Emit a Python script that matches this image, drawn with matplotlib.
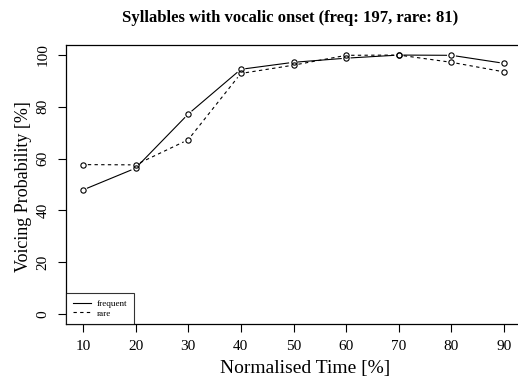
import numpy as np
import matplotlib
matplotlib.use("Agg")
import matplotlib.pyplot as plt
from matplotlib.lines import Line2D

plt.rcParams['font.family'] = ['Liberation Serif', 'DejaVu Serif']

time_pct = [10, 20, 30, 40, 50, 60, 70, 80, 90]
frequent = [47.9, 56.3, 77.2, 94.5, 97.2, 98.8, 100.0, 99.9, 96.8]
rare = [57.7, 57.6, 67.3, 92.9, 96.1, 99.9, 100.0, 97.2, 93.5]
x_ticks = [10, 20, 30, 40, 50, 60, 70, 80, 90]
y_ticks = [0, 20, 40, 60, 80, 100]

W, H = 518, 379
fig = plt.figure(figsize=(W / 100, H / 100), dpi=100)
ax = fig.add_axes([66 / W, (H - 324.4) / H, (521 - 66) / W, (324.4 - 44.7) / H])
ax.set_xlim(6.8, 93.2)
ax.set_ylim(-4, 104)


def gapped_line(ax, x, y, gap_px, **kw):
    # like R's type="b": segments stop short of each point
    pts = ax.transData.transform(np.column_stack([x, y]))
    inv = ax.transData.inverted()
    for p0, p1 in zip(pts[:-1], pts[1:]):
        d = p1 - p0
        n = np.hypot(*d)
        if n <= 2 * gap_px:
            continue
        u = d / n
        seg = inv.transform(np.array([p0 + u * gap_px, p1 - u * gap_px]))
        ax.plot(seg[:, 0], seg[:, 1], color='black', lw=0.8, **kw)
    ax.plot(x, y, 'o', ms=3.8, mfc='none', mec='black', mew=0.8)


gapped_line(ax, time_pct, frequent, 5.0, linestyle='-')
gapped_line(ax, time_pct, rare, 5.0, linestyle=(0, (3, 3)))

ax.set_xticks(x_ticks)
ax.set_yticks(y_ticks)
ax.set_yticklabels([str(v) for v in y_ticks], rotation=90, va='center')
ax.tick_params(direction='out', length=6, width=0.8, labelsize=11)
ax.tick_params(axis='x', pad=5)
ax.tick_params(axis='y', pad=6)
for s in ax.spines.values():
    s.set_linewidth(0.9)

fig.text(290 / W, 1 - 18 / H, 'Syllables with vocalic onset (freq: 197, rare: 81)',
         ha='center', va='center', fontsize=12, fontweight='bold')
fig.text(305 / W, 1 - 368 / H, 'Normalised Time [%]', ha='center', va='center', fontsize=14)
fig.text(24 / W, 1 - 187 / H, 'Voicing Probability [%]', ha='center', va='center',
         rotation=90, fontsize=13)

handles = [Line2D([], [], color='black', lw=0.8, linestyle='-'),
           Line2D([], [], color='black', lw=0.8, linestyle=(0, (3, 3)))]
leg = ax.legend(handles, ['frequent', 'rare'], loc='lower left', bbox_to_anchor=(0, 0),
                borderaxespad=0, fontsize=6.5, frameon=True, fancybox=False,
                handlelength=2.0, handletextpad=0.7, labelspacing=0.15,
                borderpad=0.75)
leg.get_frame().set_edgecolor('black')
leg.get_frame().set_linewidth(0.8)

fig.savefig('out.png', dpi=100)
